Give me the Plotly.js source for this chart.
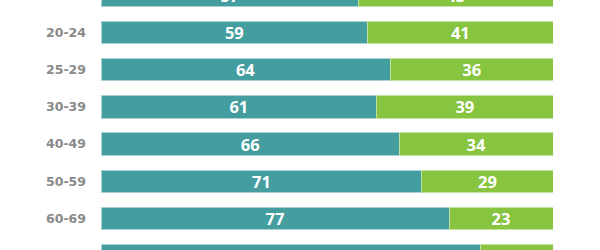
<!DOCTYPE html>
<html>
<head>
<meta charset="utf-8">
<script src="https://cdn.plot.ly/plotly-3.0.1.min.js"></script>
<style>
html,body{margin:0;padding:0;width:600px;height:250px;overflow:hidden;background:#fff;}
#chart{position:absolute;left:0;top:-23.5px;width:600px;height:297px;}
</style>
</head>
<body>
<div id="chart"></div>
<script>
const ageGroups = ['18-19','20-24','25-29','30-39','40-49','50-59','60-69','70+'];
const tealValues = [57,59,64,61,66,71,77,84];
const greenValues = [43,41,36,39,34,29,23,16];

const common = {
  type: 'bar',
  orientation: 'h',
  y: ageGroups,
  textposition: 'inside',
  insidetextanchor: 'middle',
  constraintext: 'none',
  textangle: 0,
  textfont: {family: 'Open Sans, sans-serif', size: 16.5, color: '#ffffff', weight: 700},
  hoverinfo: 'none',
  cliponaxis: false
};

const data = [
  Object.assign({}, common, {
    x: tealValues,
    text: tealValues.map(String),
    marker: {color: '#449d9f', line: {color: '#a9d3d4', width: 1}}
  }),
  Object.assign({}, common, {
    x: greenValues,
    text: greenValues.map(String),
    marker: {color: '#87c540', line: {color: '#c3e29f', width: 1}}
  })
];

const layout = {
  barmode: 'stack',
  bargap: 0.4,
  width: 600,
  height: 297,
  margin: {l: 101, r: 47, t: 0, b: 0},
  showlegend: false,
  paper_bgcolor: '#ffffff',
  plot_bgcolor: '#ffffff',
  uniformtext: {mode: false},
  xaxis: {range: [0, 100], visible: false, fixedrange: true},
  yaxis: {
    autorange: 'reversed',
    showgrid: false, zeroline: false, showline: false,
    ticks: '', ticklabelstandoff: 14,
    tickfont: {family: 'DejaVu Sans, sans-serif', size: 12.5, color: '#8a8a8a', weight: 700}
  }
};

Plotly.newPlot('chart', data, layout, {displayModeBar: false, staticPlot: true});
</script>
</body>
</html>
